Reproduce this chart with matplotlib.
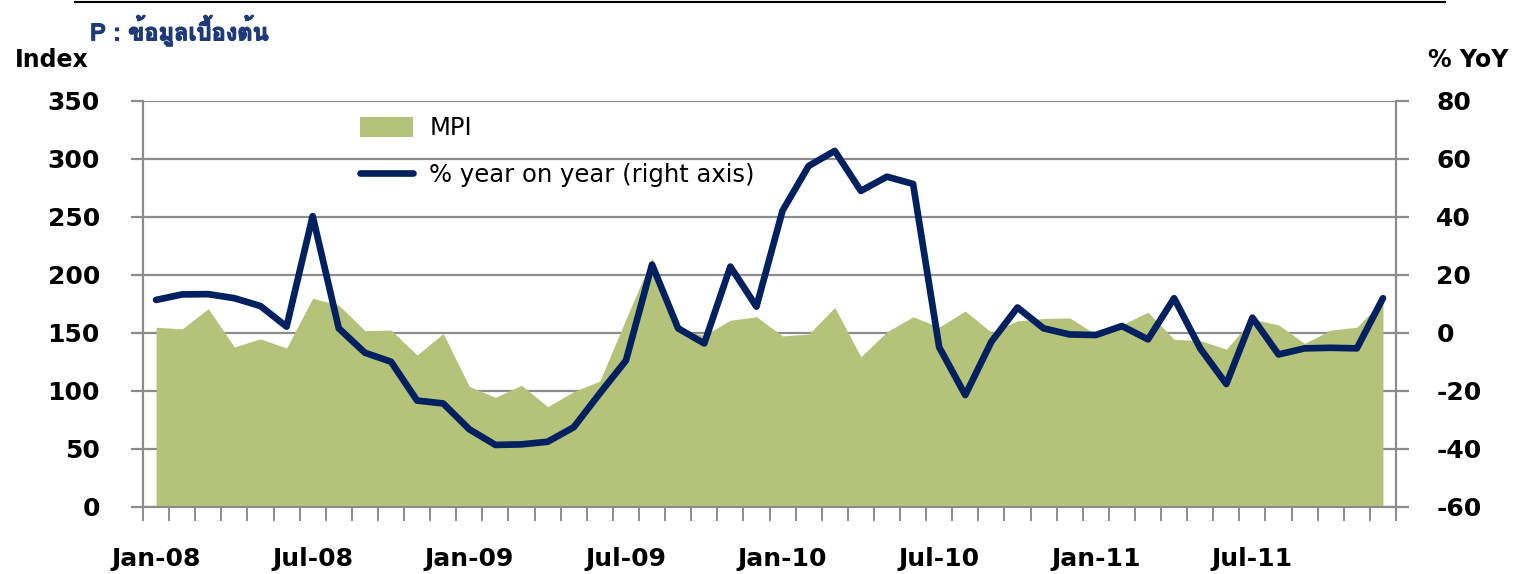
import numpy as np
import matplotlib
matplotlib.use("Agg")
import matplotlib.pyplot as plt
from matplotlib import font_manager
from matplotlib.ft2font import FT2Font
from matplotlib.patches import Patch
from matplotlib.lines import Line2D
import matplotlib.patheffects as pe

# ---------------- data ----------------
months = ["Jan-08", "Feb-08", "Mar-08", "Apr-08", "May-08", "Jun-08", "Jul-08", "Aug-08", "Sep-08", "Oct-08", "Nov-08", "Dec-08",
          "Jan-09", "Feb-09", "Mar-09", "Apr-09", "May-09", "Jun-09", "Jul-09", "Aug-09", "Sep-09", "Oct-09", "Nov-09", "Dec-09",
          "Jan-10", "Feb-10", "Mar-10", "Apr-10", "May-10", "Jun-10", "Jul-10", "Aug-10", "Sep-10", "Oct-10", "Nov-10", "Dec-10",
          "Jan-11", "Feb-11", "Mar-11", "Apr-11", "May-11", "Jun-11", "Jul-11", "Aug-11", "Sep-11", "Oct-11", "Nov-11", "Dec-11"]
mpi = [155, 153.5, 171, 138, 145, 137, 180, 174, 152, 152.5, 131, 149.5,
       104, 94.5, 105, 86.5, 99.5, 108.5, 162, 214.5, 153, 148, 161, 164,
       147.5, 149, 172, 129.5, 151, 164, 155, 169, 150.5, 160.5, 162.5, 163,
       149, 157, 168, 144.5, 143.5, 136, 162, 157, 141, 152.5, 155, 178]
yoy = [11.4, 13.3, 13.4, 12.0, 9.3, 2.2, 40.3, 1.6, -6.8, -9.9, -23.3, -24.3,
       -33.2, -38.6, -38.4, -37.5, -32.5, -20.8, -9.5, 23.6, 1.6, -3.6, 22.9, 9.1,
       42.2, 57.6, 62.8, 49.0, 53.9, 51.4, -4.9, -21.4, -3.0, 8.8, 1.6, -0.5,
       -0.7, 2.4, -2.2, 12.0, -5.3, -17.6, 5.3, -7.4, -5.3, -5.1, -5.3, 12.0]
label_months = ["Jan-08", "Jul-08", "Jan-09", "Jul-09", "Jan-10", "Jul-10", "Jan-11", "Jul-11"]
left_ticks = [0, 50, 100, 150, 200, 250, 300, 350]
right_ticks = [-60, -40, -20, 0, 20, 40, 60, 80]

# ---------------- fonts ----------------
thai_font = None
for f in font_manager.fontManager.ttflist:
    try:
        cm = FT2Font(f.fname).get_charmap()
        if 0x0E02 in cm and 0x0E49 in cm and 0x0E15 in cm:
            thai_font = f.name
            break
    except Exception:
        pass
title_family = [thai_font, "DejaVu Sans"] if thai_font else ["DejaVu Sans"]

AREA = "#B5C27A"
LINE = "#002060"
GRID = "#8C8C8C"
NAVY = "#1F3A78"

fig = plt.figure(figsize=(15.24, 5.74), dpi=100)
W, H = 1524, 574
ax = fig.add_axes([143 / W, 67 / H, (1396 - 143) / W, 406 / H])

x = np.arange(len(months))
ax.fill_between(x, mpi, 0, color=AREA, lw=0, zorder=1)
ax.set_xlim(-0.5, len(months) - 0.5)
ax.set_ylim(0, 350)
ax.set_yticks(left_ticks)
ax.set_yticklabels([str(v) for v in left_ticks])
ax.set_axisbelow(True)
ax.grid(axis="y", color=GRID, lw=1.6)

pos = [months.index(m) for m in label_months]
ax.set_xticks(pos)
ax.set_xticklabels(label_months)
ax.set_xticks(np.arange(-0.5, len(months), 1.0), minor=True)
ax.tick_params(axis="x", which="major", length=0, pad=29, labelsize=18)
ax.tick_params(axis="x", which="minor", length=10, width=1.4, color=GRID, direction="out")
ax.tick_params(axis="y", which="major", length=9, width=1.6, color=GRID, direction="out",
               pad=22, labelsize=18)
for lab in ax.get_xticklabels() + ax.get_yticklabels():
    lab.set_fontweight("bold")

for s in ["top", "right"]:
    ax.spines[s].set_visible(False)
for s in ["left", "bottom"]:
    ax.spines[s].set_color(GRID)
    ax.spines[s].set_linewidth(1.6)

ax2 = ax.twinx()
ax2.plot(x, yoy, color=LINE, lw=4.8, solid_capstyle="round", solid_joinstyle="round", zorder=3)
ax2.set_ylim(-60, 80)
ax2.set_yticks(right_ticks)
ax2.set_yticklabels([str(v) for v in right_ticks])
ax2.tick_params(axis="y", length=9, width=1.6, color=GRID, direction="out", pad=20, labelsize=18)
for lab in ax2.get_yticklabels():
    lab.set_fontweight("bold")
for s in ["top", "left", "bottom"]:
    ax2.spines[s].set_visible(False)
ax2.spines["right"].set_color(GRID)
ax2.spines["right"].set_linewidth(1.6)

handles = [Patch(facecolor=AREA, edgecolor="none"),
           Line2D([0], [0], color=LINE, lw=4.8, solid_capstyle="round")]
leg = ax2.legend(handles, ["MPI", "% year on year (right axis)"], loc="upper left",
                 bbox_to_anchor=(360 / W, 1 - 116 / H), bbox_transform=fig.transFigure,
                 frameon=False, fontsize=17.5, borderpad=0, borderaxespad=0,
                 handlelength=2.2, handleheight=0.9, handletextpad=0.65, labelspacing=0.95)

# texts
fig.text(15 / W, 1 - 60 / H, "Index", ha="left", va="center", fontsize=17, fontweight="bold", color="black")
fig.text(1428 / W, 1 - 60 / H, "% YoY", ha="left", va="center", fontsize=17, fontweight="bold", color="black")
fig.text(90 / W, 1 - 31 / H, "P : ข้อมูลเบื้องต้น", ha="left", va="center", fontsize=17,
         fontweight="bold", color=NAVY, family=title_family,
         path_effects=[pe.withStroke(linewidth=0.9, foreground=NAVY)])

# top rule
fig.add_artist(Line2D([75 / W, 1445 / W], [1 - 1.5 / H, 1 - 1.5 / H], transform=fig.transFigure,
                      color="black", lw=1.5))

fig.savefig("out.png", dpi=100, facecolor="white")
